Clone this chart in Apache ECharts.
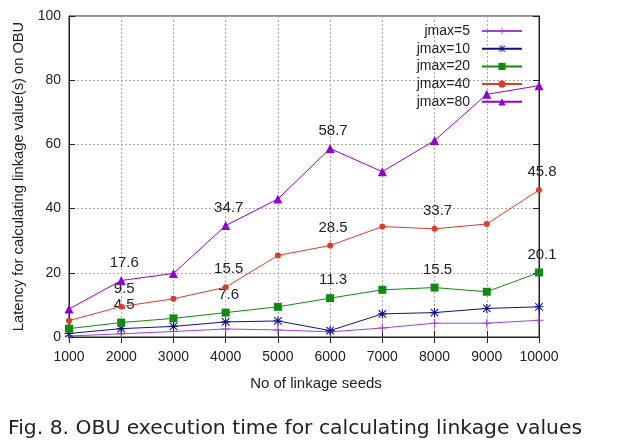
<!DOCTYPE html>
<html>
<head>
<meta charset="utf-8">
<script src="https://cdn.jsdelivr.net/npm/echarts@6/dist/echarts.min.js"></script>
<style>
html,body{margin:0;padding:0;background:#fff;}
#c{width:617px;height:444px;}
</style>
</head>
<body>
<div id="c"></div>
<script>
var categories = ['1000','2000','3000','4000','5000','6000','7000','8000','9000','10000'];
var seriesNames = ['jmax=5','jmax=10','jmax=20','jmax=40','jmax=80'];
var jmax5  = [0.3, 1.0, 1.7, 2.5, 2.2, 1.6, 2.8, 4.3, 4.3, 5.2];
var jmax10 = [1.1, 2.6, 3.3, 4.7, 5.0, 2.0, 7.2, 7.6, 8.9, 9.4];
var jmax20 = [2.6, 4.5, 5.8, 7.6, 9.4, 12.1, 14.7, 15.4, 14.1, 20.1];
var jmax40 = [5.1, 9.5, 11.9, 15.5, 25.4, 28.5, 34.4, 33.7, 35.2, 45.8];
var jmax80 = [8.7, 17.6, 19.8, 34.7, 43.0, 58.7, 51.5, 61.2, 75.6, 78.3];
var ann20 = [null,'4.5',null,'7.6',null,'11.3',null,'15.5',null,'20.1'];
var ann40 = [null,'9.5',null,'15.5',null,'28.5',null,'33.7',null,'45.8'];
var ann80 = [null,'17.6',null,'34.7',null,'58.7',null,null,null,null];

var colors = ['#a040d8','#10108c','#108a10','#e03a2a','#9400d3'];
var plusPath = 'path://M4.4,0H5.6V10H4.4Z M0,4.4H10V5.6H0Z';
var starPath = 'path://M4.4,0H5.6V10H4.4Z M0,4.4H10V5.6H0Z M1.2,0.4L9.6,8.8L8.8,9.6L0.4,1.2Z M8.8,0.4L9.6,1.2L1.2,9.6L0.4,8.8Z';
var symbols = [plusPath, starPath, 'rect', 'circle', 'triangle'];
var sizes = [9, 9, 8, 6, 9];
var values = [jmax5, jmax10, jmax20, jmax40, jmax80];
var anns = [null, null, ann20, ann40, ann80];

var font = 'Liberation Sans, Arial, sans-serif';

function buildData(vals, ann){
  return vals.map(function(v,i){
    var item = {value: v};
    if (ann && ann[i]) {
      item.label = {show:true, position:'inside', offset:[3,-18], formatter: ann[i],
        color:'#222', fontSize:15, fontFamily: font};
    }
    return item;
  });
}

var series = seriesNames.map(function(n, k){
  return {
    name: n, type: 'line', data: buildData(values[k], anns[k]),
    symbol: symbols[k], symbolSize: sizes[k], showAllSymbol: true,
    lineStyle: {color: colors[k], width: 1},
    itemStyle: {color: colors[k]},
    label: {show:false},
    emphasis: {disabled:true},
    animation: false, z: 3 + k
  };
});

var chart = echarts.init(document.getElementById('c'), null, {renderer:'canvas'});
chart.setOption({
  backgroundColor: '#fff',
  animation: false,
  color: colors,
  grid: {left: 69, right: 78, top: 16, bottom: 107, show: true, borderColor: '#222', borderWidth: 1},
  legend: {
    orient: 'vertical', right: 89, top: 19, align: 'right',
    itemWidth: 40, itemHeight: 9, itemGap: 3.7,
    textStyle: {fontSize: 14, fontFamily: font, color: '#222', width: 80, align: 'right', padding: [0, 7, 0, 0]},
    data: seriesNames
  },
  graphic: [{
    type: 'text', left: 8, top: 420, scaleX: 1.069,
    style: {text: 'Fig. 8. OBU execution time for calculating linkage values', fontSize: 19, fontFamily: 'DejaVu Sans, sans-serif', fill: '#222'}
  }],
  xAxis: [{
    type: 'category', data: categories, boundaryGap: false,
    axisLine: {show: true, lineStyle: {color: '#222'}},
    axisTick: {show: true, inside: true, length: 6, lineStyle: {color: '#222'}},
    axisLabel: {fontSize: 14, fontFamily: font, color: '#222', margin: 13},
    splitLine: {show: true, lineStyle: {color: '#aaa', type: [2,2], width: 1}},
    name: 'No of linkage seeds', nameLocation: 'middle', nameGap: 39,
    nameTextStyle: {fontSize: 15, fontFamily: font, color: '#222', padding: [0, 0, 0, 24]}
  },{
    type: 'category', data: categories, boundaryGap: false, position: 'top',
    axisLine: {show: true, lineStyle: {color: '#222'}},
    axisTick: {show: true, inside: true, length: 6, lineStyle: {color: '#222'}},
    axisLabel: {show: false}, splitLine: {show: false}
  }],
  yAxis: [{
    type: 'value', min: 0, max: 100, interval: 20,
    axisLine: {show: true, lineStyle: {color: '#222'}},
    axisTick: {show: true, inside: true, length: 6, lineStyle: {color: '#222'}},
    axisLabel: {fontSize: 14, fontFamily: font, color: '#222', margin: 8},
    splitLine: {show: true, lineStyle: {color: '#aaa', type: [2,2], width: 1}},
    name: 'Latency for calculating linkage value(s) on OBU', nameLocation: 'middle', nameGap: 38,
    nameTextStyle: {fontSize: 14.7, fontFamily: font, color: '#222'}
  },{
    type: 'value', min: 0, max: 100, interval: 20, position: 'right',
    axisLine: {show: true, lineStyle: {color: '#222'}},
    axisTick: {show: true, inside: true, length: 6, lineStyle: {color: '#222'}},
    axisLabel: {show: false}, splitLine: {show: false}
  }],
  series: series
});
</script>
</body>
</html>
